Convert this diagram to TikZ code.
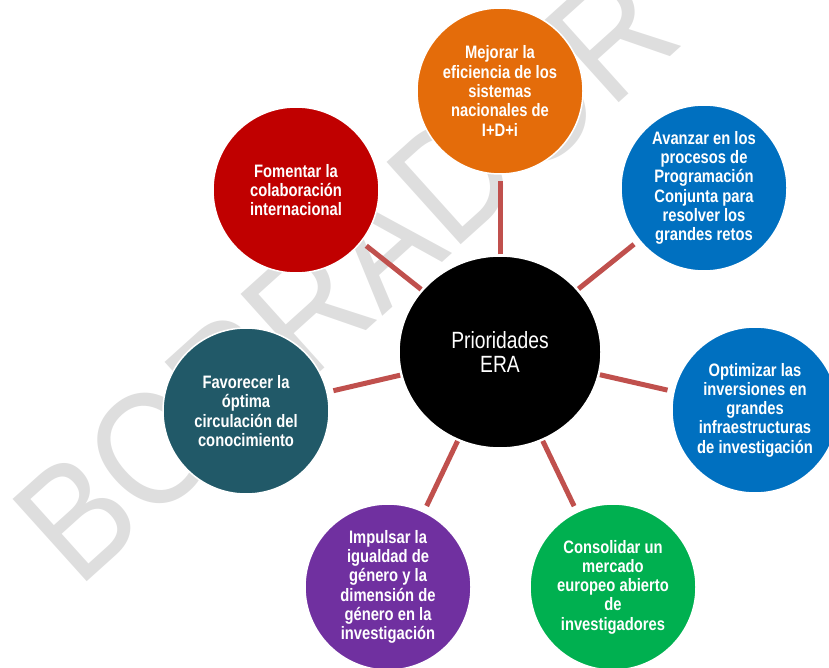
\documentclass[tikz,border=0pt]{standalone}
\usepackage{fontspec}
\setmainfont{Liberation Sans}[FakeStretch=0.82]
\newfontfamily\wmfont{Liberation Sans}
\usetikzlibrary{shapes.geometric}
\definecolor{naranja}{RGB}{228,108,10}
\definecolor{azul}{RGB}{0,112,192}
\definecolor{verde}{RGB}{0,176,80}
\definecolor{morado}{RGB}{112,48,160}
\definecolor{petroleo}{RGB}{33,89,104}
\definecolor{rojo}{RGB}{192,0,0}
\definecolor{enlace}{RGB}{192,80,77}
\definecolor{marca}{RGB}{222,222,222}
\tikzset{
  prio/.style={circle,minimum size=166pt,inner sep=0pt,draw=white,line width=1.5pt,
    text=white,align=center,font=\bfseries\fontsize{18}{19.3}\selectfont},
  conn/.style={draw=enlace,line width=5pt,shorten >=6pt,shorten <=1pt},
  borrador/.style={anchor=base west,rotate=42,xscale=0.88,transform shape,
    text=marca,inner sep=0pt,font=\wmfont\fontsize{161}{161}\selectfont}
}

\begin{document}
\begin{tikzpicture}[x=1pt,y=-1pt]
      \useasboundingbox (0,0) rectangle (829,668);
      \clip (0,0) rectangle (829,668);

      \node[borrador] (wm) at (78,590) {BORRADOR};

      \node[ellipse,minimum width=202pt,minimum height=192pt,inner sep=0pt,fill=black,draw=white,line width=1.5pt,
        text=white,align=center,font=\fontsize{23.5}{24}\selectfont] (ctr) at (500,352) {Prioridades\\ERA};

      \node[prio,fill=naranja] (mejorar) at (500,91) {Mejorar la\\eficiencia de los\\sistemas\\nacionales de\\I+D+i};
      \node[prio,fill=azul] (avanzar) at (704,188) {Avanzar en los\\procesos de\\Programación\\Conjunta para\\resolver los\\grandes retos};
      \node[prio,fill=azul] (optimizar) at (755,410) {Optimizar las\\inversiones en\\grandes\\infraestructuras\\de investigación};
      \node[prio,fill=verde] (consolidar) at (613,587) {Consolidar un\\mercado\\europeo abierto\\de\\investigadores};
      \node[prio,fill=morado] (impulsar) at (388,587) {Impulsar la\\igualdad de\\género y la\\dimensión de\\género en la\\investigación};
      \node[prio,fill=petroleo] (favorecer) at (246,411) {Favorecer la\\óptima\\circulación del\\conocimiento};
      \node[prio,fill=rojo] (fomentar) at (296,190) {Fomentar la\\colaboración\\internacional};

      \foreach \p in {mejorar,avanzar,optimizar,consolidar,impulsar,favorecer,fomentar}
        \draw[conn] (ctr) -- (\p);
\end{tikzpicture}
\end{document}
